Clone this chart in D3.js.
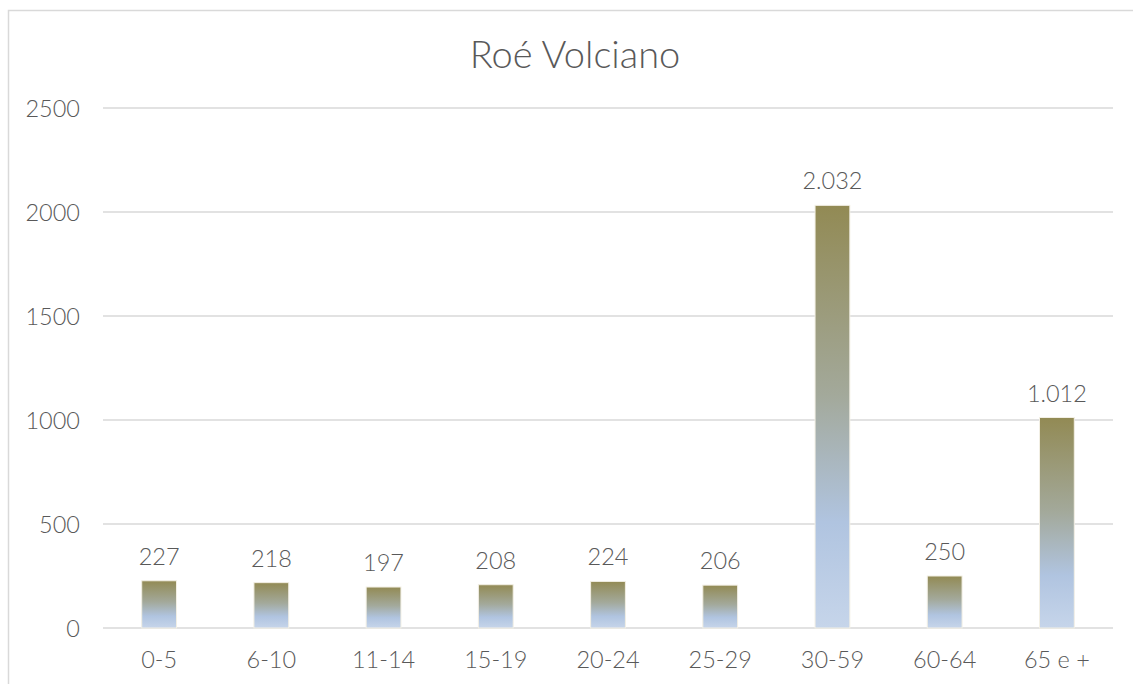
<!DOCTYPE html>
<html>
<head>
<meta charset="utf-8">
<script src="https://cdn.jsdelivr.net/npm/d3@7"></script>
<style>
  html, body { margin: 0; padding: 0; background: #fff; }
  svg { display: block; }
  text { font-family: Lato, "Open Sans", sans-serif; font-weight: 300; fill: #595959; }
</style>
</head>
<body>
<svg id="chart" width="1133" height="684"></svg>
<script>
const title = "Roé Volciano";
const categories = ["0-5", "6-10", "11-14", "15-19", "20-24", "25-29", "30-59", "60-64", "65 e +"];
const values = [227, 218, 197, 208, 224, 206, 2032, 250, 1012];
const yTicks = [0, 500, 1000, 1500, 2000, 2500];

const W = 1133, H = 684;
const margin = { left: 103, right: 20, top: 108, bottom: 56 };
const plotRight = 1113;

const svg = d3.select("#chart");

// frame
svg.append("path")
  .attr("d", `M8.5,${H} L8.5,10.5 L${W},10.5`)
  .attr("fill", "none").attr("stroke", "#d9d9d9").attr("stroke-width", 1.5);

const x = d3.scaleBand().domain(categories).range([margin.left, plotRight]).paddingInner(0.69).paddingOuter(0.345);
const y = d3.scaleLinear().domain([0, 2500]).range([628, 108]);

const defs = svg.append("defs");
const grad = defs.append("linearGradient").attr("id", "barGrad")
  .attr("x1", 0).attr("y1", 0).attr("x2", 0).attr("y2", 1);
grad.append("stop").attr("offset", "0%").attr("stop-color", "#928a54");
grad.append("stop").attr("offset", "45%").attr("stop-color", "#a3a99b");
grad.append("stop").attr("offset", "75%").attr("stop-color", "#b0c4e0");
grad.append("stop").attr("offset", "100%").attr("stop-color", "#c6d5ea");

// gridlines
svg.append("g").selectAll("line").data(yTicks).join("line")
  .attr("x1", margin.left).attr("x2", plotRight)
  .attr("y1", d => y(d)).attr("y2", d => y(d))
  .attr("stroke", "#d9d9d9").attr("stroke-width", 1.5);

// y labels
const yAxis = d3.axisLeft(y).tickValues(yTicks).tickSize(0).tickPadding(0).tickFormat(d3.format("d"));
const gy = svg.append("g").attr("transform", `translate(80,0)`).call(yAxis);
gy.select(".domain").remove();
gy.selectAll("text").attr("font-size", 23.5).attr("font-family", "Lato").attr("fill", "#595959").attr("dy", "0.35em");

// x labels
const xAxis = d3.axisBottom(x).tickSize(0).tickPadding(0);
const gx = svg.append("g").attr("transform", `translate(0,628)`).call(xAxis);
gx.select(".domain").remove();
gx.selectAll("text").attr("font-size", 23.5).attr("font-family", "Lato").attr("fill", "#595959").attr("y", 40).attr("dy", 0);

// bars
svg.append("g").selectAll("rect").data(values).join("rect")
  .attr("x", (d, i) => x(categories[i]))
  .attr("width", x.bandwidth())
  .attr("y", d => y(d))
  .attr("height", d => y(0) - y(d))
  .attr("fill", "url(#barGrad)")
  .attr("stroke", "#f2efe4").attr("stroke-width", 1);

// data labels
const fmt = v => v >= 1000 ? d3.format(",")(v).replace(/,/g, ".") : String(v);
svg.append("g").selectAll("text").data(values).join("text")
  .attr("x", (d, i) => x(categories[i]) + x.bandwidth() / 2)
  .attr("y", d => y(d) - 16)
  .attr("text-anchor", "middle")
  .attr("font-size", 23.5)
  .text(d => fmt(d));

// title
svg.append("text").attr("x", 575).attr("y", 68).attr("text-anchor", "middle")
  .attr("font-size", 38).text(title);
</script>
</body>
</html>
